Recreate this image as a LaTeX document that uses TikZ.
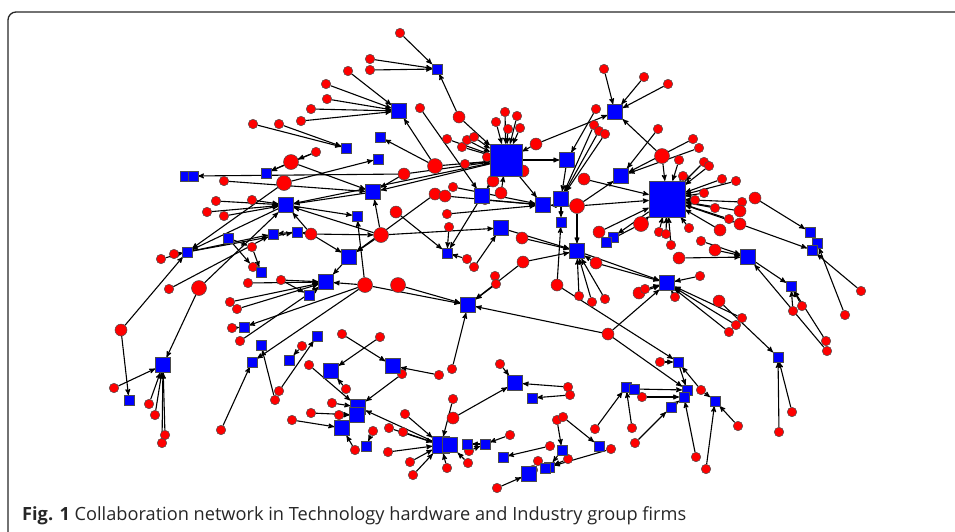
\documentclass[tikz,border=0pt]{standalone}
\usepackage{fontspec}
\newfontfamily\capfont{Open Sans}
\usetikzlibrary{arrows}
\pgfdeclarelayer{bg}
\pgfsetlayers{bg,main}

\begin{document}
\begin{tikzpicture}[x=1pt,y=-1pt,->,>=stealth',
    link/.style={draw,line width=1.1pt},
    firm/.style={circle,draw=black!70,line width=0.5pt,fill=red,inner sep=0pt,minimum size=9.5pt},
    midfirm/.style={firm,minimum size=12pt},
    bigfirm/.style={firm,minimum size=15pt},
    grp/.style={rectangle,draw=black!70,line width=0.5pt,fill=blue,inner sep=0pt,minimum size=9.5pt},
    midgrp/.style={grp,minimum size=15pt},
    hub/.style={grp,minimum size=32pt}]
  \useasboundingbox (0,0) rectangle (955,531);
  \draw[-,line width=1.3pt,black!85,rounded corners=8pt] (8,540) -- (8,12) -- (965,12);

  % red nodes (firms)
  \node [firm]    (f1)   at (400,33)  {};
  \node [firm]    (f2)   at (370,59)  {};
  \node [firm]    (f3)   at (370,70)  {};
  \node [firm]    (f4)   at (348,71)  {};
  \node [firm]    (f5)   at (326,84)  {};
  \node [firm]    (f6)   at (327,99)  {};
  \node [firm]    (f7)   at (311,109) {};
  \node [firm]    (f8)   at (301,121) {};
  \node [firm]    (f9)   at (279,124) {};
  \node [firm]    (f10)  at (253,124) {};
  \node [midfirm] (f11)  at (459,117) {};
  \node [firm]    (f12)  at (420,108) {};
  \node [firm]    (f13)  at (505,112) {};
  \node [firm]    (f14)  at (517,116) {};
  \node [firm]    (f15)  at (496,122) {};
  \node [firm]    (f16)  at (508,129) {};
  \node [firm]    (f17)  at (520,128) {};
  \node [firm]    (f18)  at (447,139) {};
  \node [firm]    (f19)  at (462,147) {};
  \node [firm]    (f20)  at (467,140) {};
  \node [firm]    (f21)  at (474,137) {};
  \node [midfirm] (f22)  at (536,144) {};
  \node [bigfirm] (f23)  at (435,166) {};
  \node [midfirm] (f24)  at (404,174) {};
  \node [firm]    (f25)  at (465,164) {};
  \node [firm]    (f26)  at (487,157) {};
  \node [midfirm] (f27)  at (523,171) {};
  \node [midfirm] (f28)  at (493,181) {};
  \node [firm]    (f29)  at (453,187) {};
  \node [midfirm] (f30)  at (435,194) {};
  \node [midfirm] (f31)  at (445,196) {};
  \node [midfirm] (f32)  at (501,193) {};
  \node [firm]    (f33)  at (485,200) {};
  \node [firm]    (f34)  at (316,152) {};
  \node [bigfirm] (f35)  at (291,162) {};
  \node [firm]    (f36)  at (224,181) {};
  \node [bigfirm] (f37)  at (284,183) {};
  \node [firm]    (f38)  at (216,201) {};
  \node [firm]    (f39)  at (252,200) {};
  \node [firm]    (f40)  at (207,212) {};
  \node [firm]    (f41)  at (224,216) {};
  \node [midfirm] (f42)  at (311,234) {};
  \node [firm]    (f43)  at (252,247) {};
  \node [firm]    (f44)  at (174,254) {};
  \node [firm]    (f45)  at (161,259) {};
  \node [firm]    (f46)  at (604,69)  {};
  \node [firm]    (f47)  at (596,109) {};
  \node [firm]    (f48)  at (594,125) {};
  \node [firm]    (f49)  at (599,131) {};
  \node [firm]    (f50)  at (605,134) {};
  \node [firm]    (f51)  at (644,77)  {};
  \node [firm]    (f52)  at (668,84)  {};
  \node [midfirm] (f53)  at (584,179) {};
  \node [bigfirm] (f54)  at (577,206) {};
  \node [midfirm] (f55)  at (396,212) {};
  \node [firm]    (f56)  at (447,214) {};
  \node [firm]    (f57)  at (449,227) {};
  \node [midfirm] (f58)  at (522,238) {};
  \node [bigfirm] (f59)  at (381,235) {};
  \node [midfirm] (f60)  at (599,232) {};
  \node [firm]    (f61)  at (658,129) {};
  \node [firm]    (f62)  at (693,139) {};
  \node [firm]    (f63)  at (699,148) {};
  \node [bigfirm] (f64)  at (662,156) {};
  \node [firm]    (f65)  at (679,160) {};
  \node [firm]    (f66)  at (704,162) {};
  \node [firm]    (f67)  at (709,166) {};
  \node [firm]    (f68)  at (683,176) {};
  \node [firm]    (f69)  at (722,179) {};
  \node [firm]    (f70)  at (736,181) {};
  \node [firm]    (f71)  at (704,193) {};
  \node [firm]    (f72)  at (695,200) {};
  \node [midfirm] (f73)  at (755,198) {};
  \node [firm]    (f74)  at (742,202) {};
  \node [firm]    (f75)  at (715,208) {};
  \node [midfirm] (f76)  at (740,211) {};
  \node [firm]    (f77)  at (729,219) {};
  \node [midfirm] (f78)  at (740,224) {};
  \node [bigfirm] (f79)  at (641,224) {};
  \node [firm]    (f80)  at (689,228) {};
  \node [midfirm] (f81)  at (720,230) {};
  \node [firm]    (f82)  at (659,232) {};
  \node [firm]    (f83)  at (666,234) {};
  \node [firm]    (f84)  at (671,245) {};
  \node [firm]    (f85)  at (701,241) {};
  \node [midfirm] (f86)  at (715,250) {};
  \node [midfirm] (f87)  at (679,258) {};
  \node [firm]    (f88)  at (169,289) {};
  \node [bigfirm] (f89)  at (199,288) {};
  \node [midfirm] (f90)  at (121,330) {};
  \node [firm]    (f91)  at (114,388) {};
  \node [firm]    (f92)  at (149,404) {};
  \node [firm]    (f93)  at (155,415) {};
  \node [firm]    (f94)  at (165,435) {};
  \node [firm]    (f95)  at (162,443) {};
  \node [firm]    (f96)  at (221,430) {};
  \node [firm]    (f97)  at (253,267) {};
  \node [firm]    (f98)  at (248,283) {};
  \node [firm]    (f99)  at (281,280) {};
  \node [bigfirm] (f100) at (365,285) {};
  \node [firm]    (f101) at (230,302) {};
  \node [firm]    (f102) at (237,309) {};
  \node [firm]    (f103) at (232,328) {};
  \node [firm]    (f104) at (240,341) {};
  \node [firm]    (f105) at (302,346) {};
  \node [firm]    (f106) at (309,365) {};
  \node [firm]    (f107) at (279,391) {};
  \node [firm]    (f108) at (275,400) {};
  \node [firm]    (f109) at (342,334) {};
  \node [firm]    (f110) at (346,389) {};
  \node [firm]    (f111) at (332,403) {};
  \node [firm]    (f112) at (311,413) {};
  \node [firm]    (f113) at (339,415) {};
  \node [firm]    (f114) at (292,420) {};
  \node [firm]    (f115) at (355,450) {};
  \node [firm]    (f116) at (467,259) {};
  \node [firm]    (f117) at (474,267) {};
  \node [midfirm] (f118) at (523,262) {};
  \node [midfirm] (f119) at (596,263) {};
  \node [bigfirm] (f120) at (398,285) {};
  \node [firm]    (f121) at (495,276) {};
  \node [firm]    (f122) at (496,284) {};
  \node [midfirm] (f123) at (557,285) {};
  \node [firm]    (f124) at (579,296) {};
  \node [firm]    (f125) at (592,302) {};
  \node [firm]    (f126) at (605,299) {};
  \node [midfirm] (f127) at (608,334) {};
  \node [firm]    (f128) at (380,337) {};
  \node [firm]    (f129) at (402,374) {};
  \node [firm]    (f130) at (439,375) {};
  \node [firm]    (f131) at (452,369) {};
  \node [firm]    (f132) at (500,364) {};
  \node [firm]    (f133) at (568,387) {};
  \node [firm]    (f134) at (570,395) {};
  \node [firm]    (f135) at (453,399) {};
  \node [midfirm] (f136) at (453,418) {};
  \node [firm]    (f137) at (405,414) {};
  \node [firm]    (f138) at (373,431) {};
  \node [firm]    (f139) at (389,428) {};
  \node [firm]    (f140) at (403,432) {};
  \node [firm]    (f141) at (388,452) {};
  \node [firm]    (f142) at (510,435) {};
  \node [firm]    (f143) at (469,451) {};
  \node [firm]    (f144) at (410,462) {};
  \node [firm]    (f145) at (413,475) {};
  \node [firm]    (f146) at (447,468) {};
  \node [firm]    (f147) at (468,463) {};
  \node [firm]    (f148) at (557,420) {};
  \node [firm]    (f149) at (563,417) {};
  \node [firm]    (f150) at (595,429) {};
  \node [firm]    (f151) at (611,449) {};
  \node [firm]    (f152) at (550,446) {};
  \node [firm]    (f153) at (568,459) {};
  \node [firm]    (f154) at (538,461) {};
  \node [firm]    (f155) at (533,470) {};
  \node [firm]    (f156) at (497,488) {};
  \node [firm]    (f157) at (700,276) {};
  \node [midfirm] (f158) at (639,293) {};
  \node [firm]    (f159) at (645,289) {};
  \node [firm]    (f160) at (675,297) {};
  \node [midfirm] (f161) at (719,301) {};
  \node [firm]    (f162) at (861,291) {};
  \node [firm]    (f163) at (793,311) {};
  \node [firm]    (f164) at (802,306) {};
  \node [firm]    (f165) at (845,315) {};
  \node [firm]    (f166) at (742,318) {};
  \node [firm]    (f167) at (736,325) {};
  \node [firm]    (f168) at (729,332) {};
  \node [firm]    (f169) at (826,341) {};
  \node [firm]    (f170) at (827,351) {};
  \node [firm]    (f171) at (660,362) {};
  \node [firm]    (f172) at (701,390) {};
  \node [firm]    (f173) at (642,397) {};
  \node [firm]    (f174) at (792,412) {};
  \node [firm]    (f175) at (738,426) {};
  \node [firm]    (f176) at (632,428) {};
  \node [firm]    (f177) at (779,432) {};
  \node [firm]    (f178) at (635,443) {};
  \node [firm]    (f179) at (696,457) {};
  \node [firm]    (f180) at (706,469) {};

  % blue nodes (groups)
  \node [grp]     (g1)  at (437,69)  {};
  \node [midgrp]  (g2)  at (399,111) {};
  \node [grp]     (g3)  at (346,148) {};
  \node [grp]     (g4)  at (380,137) {};
  \node [grp]     (g5)  at (378,159) {};
  \node [grp]     (g6)  at (266,173) {};
  \node [grp]     (g7)  at (185,176) {};
  \node [grp]     (g8)  at (193,176) {};
  \node [midgrp]  (g9)  at (373,192) {};
  \node [midgrp]  (g10) at (286,205) {};
  \node [grp]     (g11) at (357,216) {};
  \node [grp]     (g12) at (273,234) {};
  \node [grp]     (g13) at (297,232) {};
  \node [grp]     (g14) at (228,238) {};
  \node [grp]     (g15) at (187,252) {};
  \node [midgrp]  (g16) at (349,257) {};
  \node [hub]     (h1)  at (506,160) {};
  \node [midgrp]  (g17) at (482,196) {};
  \node [midgrp]  (g18) at (567,160) {};
  \node [midgrp]  (g19) at (615,112) {};
  \node [midgrp]  (g20) at (621,176) {};
  \node [midgrp]  (g21) at (561,199) {};
  \node [midgrp]  (g22) at (543,205) {};
  \node [grp]     (g23) at (561,222) {};
  \node [midgrp]  (g24) at (501,228) {};
  \node [grp]     (g25) at (447,253) {};
  \node [midgrp]  (g26) at (577,251) {};
  \node [grp]     (g27) at (613,237) {};
  \node [grp]     (g28) at (606,242) {};
  \node [hub,minimum size=36pt] (h2) at (667,199) {};
  \node [midgrp]  (g29) at (748,257) {};
  \node [grp]     (g30) at (810,232) {};
  \node [grp]     (g31) at (817,243) {};
  \node [grp]     (g32) at (812,250) {};
  \node [grp]     (g33) at (261,272) {};
  \node [midgrp]  (g34) at (326,282) {};
  \node [grp]     (g35) at (309,295) {};
  \node [grp]     (g36) at (244,327) {};
  \node [grp]     (g37) at (261,345) {};
  \node [grp]     (g38) at (252,362) {};
  \node [grp]     (g39) at (317,336) {};
  \node [grp]     (g40) at (289,360) {};
  \node [midgrp]  (g41) at (163,365) {};
  \node [grp]     (g42) at (129,400) {};
  \node [midgrp]  (g43) at (331,371) {};
  \node [midgrp]  (g44) at (358,407) {};
  \node [midgrp]  (g45) at (357,415) {};
  \node [midgrp]  (g46) at (342,428) {};
  \node [grp]     (g47) at (366,446) {};
  \node [midgrp]  (g48) at (468,305) {};
  \node [midgrp]  (g49) at (393,366) {};
  \node [midgrp]  (g50) at (515,383) {};
  \node [grp]     (g51) at (532,398) {};
  \node [grp,minimum size=17pt] (g52) at (441,445) {};
  \node [midgrp]  (g53) at (450,445) {};
  \node [grp]     (g54) at (467,444) {};
  \node [grp]     (g55) at (485,444) {};
  \node [grp]     (g56) at (503,457) {};
  \node [grp]     (g57) at (562,450) {};
  \node [grp]     (g58) at (599,446) {};
  \node [grp]     (g59) at (626,387) {};
  \node [grp]     (g60) at (634,389) {};
  \node [grp]     (g61) at (549,467) {};
  \node [grp]     (g62) at (545,468) {};
  \node [midgrp]  (g63) at (529,474) {};
  \node [midgrp]  (g64) at (667,283) {};
  \node [grp]     (g65) at (791,286) {};
  \node [grp]     (g66) at (778,357) {};
  \node [grp]     (g67) at (678,362) {};
  \node [grp]     (g68) at (687,390) {};
  \node [grp]     (g69) at (684,397) {};
  \node [grp]     (g70) at (715,401) {};
  \node [grp]     (g71) at (671,407) {};

  \begin{pgfonlayer}{bg}
  \begin{scope}[every edge/.style=link]
  \path
  (f1) edge (g1) (f2) edge (g1) (f3) edge (g1) (f11) edge (g1)
  (f4) edge (g2) (f5) edge (g2) (f6) edge (g2) (f7) edge (g2) (f8) edge (g2) (f23) edge (g2)
  (f9) edge (g3) (f10) edge (g3)
  (f34) edge (g6) (f35) edge (g6) (f35) edge (g9) (f34) edge (f35)
  (f24) edge (g8) (f24) edge (g9) (f36) edge (g9) (f37) edge (g5) (f37) edge (g15)
  (f38) edge (g10) (f39) edge (g10) (f40) edge (g10) (f41) edge (g10) (f89) edge (g10)
  (g9) edge (g10) (g10) edge (g11) (g10) edge (g15) (f42) edge (g10) (f42) edge (g13)
  (f42) edge (g16) (f42) edge (f59) (f59) edge (g9) (f59) edge (g16) (f100) edge (g11)
  (g15) edge (g12) (g15) edge (g13) (g13) edge (g12) (f88) edge (g12)
  (g14) edge (f43) (g14) edge (f97) (f43) edge (g33) (f97) edge (g33)
  (f44) edge (g15) (f45) edge (g15) (f90) edge (g15)
  (f11) edge (h1) (f13) edge (h1) (f14) edge (h1) (f15) edge (h1) (f16) edge (h1)
  (f17) edge (h1) (f18) edge (h1) (f19) edge (h1) (f20) edge (h1) (f21) edge (h1)
  (f22) edge (h1) (f23) edge (h1) (f24) edge (h1) (f25) edge (h1) (f26) edge (h1)
  (f27) edge (h1) (f28) edge (h1) (f32) edge (h1)
  (h1) edge (g18) (h1) edge (g22) (h1) edge (g9) (h1) edge (g17) (h1) edge (g10)
  (f23) edge (g4) (f12) edge (g17)
  (f22) edge (g19) (f46) edge (g19) (f51) edge (g19) (f52) edge (g19) (f64) edge (g19)
  (f47) edge (g18) (f48) edge (g21) (f49) edge (g21) (f50) edge (g21) (g18) edge (g21)
  (f61) edge (g20) (f62) edge (g20) (f63) edge (g20)
  (f53) edge (h2) (f54) edge (h2) (f54) edge (g20) (f54) edge (g26) (f54) edge (g22)
  (f64) edge (h2) (f65) edge (h2) (f66) edge (h2) (f67) edge (h2) (f68) edge (h2)
  (f69) edge (h2) (f70) edge (h2) (f71) edge (h2) (f72) edge (h2) (f74) edge (h2)
  (f75) edge (h2) (f76) edge (h2) (f77) edge (h2) (f78) edge (h2) (f79) edge (h2)
  (f80) edge (h2) (f81) edge (h2) (f82) edge (h2) (f83) edge (h2) (f84) edge (h2)
  (f60) edge (h2) (h2) edge (g27) (f79) edge (g28)
  (f73) edge (g30) (f78) edge (g32) (f85) edge (g29) (f86) edge (g29) (f87) edge (g29)
  (g21) edge (g23) (g17) edge (g25) (f55) edge (g25) (f57) edge (g25) (f56) edge (g22)
  (f59) edge (g24) (f58) edge (g26) (g24) edge (g26) (f59) edge (g10)
  (f29) edge (g22) (f31) edge (g22) (f33) edge (g22) (f30) edge (g16)
  (f118) edge (g26) (f118) edge (g48) (f119) edge (g26) (f124) edge (g26)
  (f125) edge (g26) (f126) edge (g26) (f123) edge (g23) (f123) edge (g67)
  (f100) edge (g48) (f120) edge (g48) (f122) edge (g48) (f131) edge (g48) (f127) edge (g48)
  (f116) edge (g25) (f117) edge (g24)
  (f127) edge (g64) (f127) edge (g68) (g26) edge (g64) (f119) edge (g64)
  (f158) edge (g64) (f159) edge (g64) (f160) edge (g64) (f157) edge (g64)
  (f166) edge (g64) (f167) edge (g64) (f168) edge (g64) (f161) edge (g66)
  (g29) edge (g65) (f163) edge (g65) (f164) edge (g65) (f169) edge (g65) (f170) edge (g29)
  (f162) edge (g32) (f165) edge (g31) (f174) edge (g66) (f177) edge (g66)
  (f100) edge (g34) (f98) edge (g34) (f101) edge (g34) (f102) edge (g34) (f104) edge (g34)
  (g35) edge (g34) (g16) edge (g34) (f99) edge (g35) (f99) edge (g34)
  (f100) edge (g36) (f100) edge (g38) (f103) edge (g36)
  (f89) edge (g41) (f91) edge (g41) (f92) edge (g41) (f93) edge (g41)
  (f94) edge (g41) (f95) edge (g41) (f90) edge (g42) (f96) edge (g38)
  (f108) edge (g37) (f107) edge (g39) (f105) edge (g40)
  (f128) edge (g43) (f110) edge (g43) (f109) edge (g49) (f130) edge (g49)
  (f106) edge (g44) (f129) edge (g44) (f111) edge (g44) (f113) edge (g45)
  (f112) edge (g45) (f114) edge (g46) (f115) edge (g46) (g52) edge (g44) (f138) edge (g47)
  (f137) edge (g52) (f139) edge (g52) (f140) edge (g52) (f141) edge (g52)
  (f144) edge (g52) (f145) edge (g52) (f135) edge (g52) (f146) edge (g52) (f147) edge (g53)
  (f136) edge (g50) (f132) edge (g50) (f133) edge (g50) (f134) edge (g51)
  (g55) edge (g54) (f142) edge (g55) (f143) edge (g55) (f152) edge (g56)
  (f148) edge (g57) (f149) edge (g58) (f150) edge (g59)
  (f151) edge (g61) (g57) edge (g61) (f154) edge (g62) (f155) edge (g63) (f156) edge (g63) (f153) edge (g61)
  (f176) edge (g59) (g60) edge (g68) (f173) edge (g69) (f178) edge (g71) (g71) edge (g69)
  (f179) edge (g69) (f180) edge (g70) (f175) edge (g70) (f172) edge (g70) (f172) edge (g67)
  (g67) edge (g68) (f171) edge (g67);
  \end{scope}
  \end{pgfonlayer}

  \node [anchor=base west,inner sep=0pt,text=black!85,font=\capfont\fontsize{18.2}{20}\selectfont] (cap) at (22,520)
    {\textbf{Fig. 1} Collaboration network in Technology hardware and Industry group firms};
\end{tikzpicture}
\end{document}
